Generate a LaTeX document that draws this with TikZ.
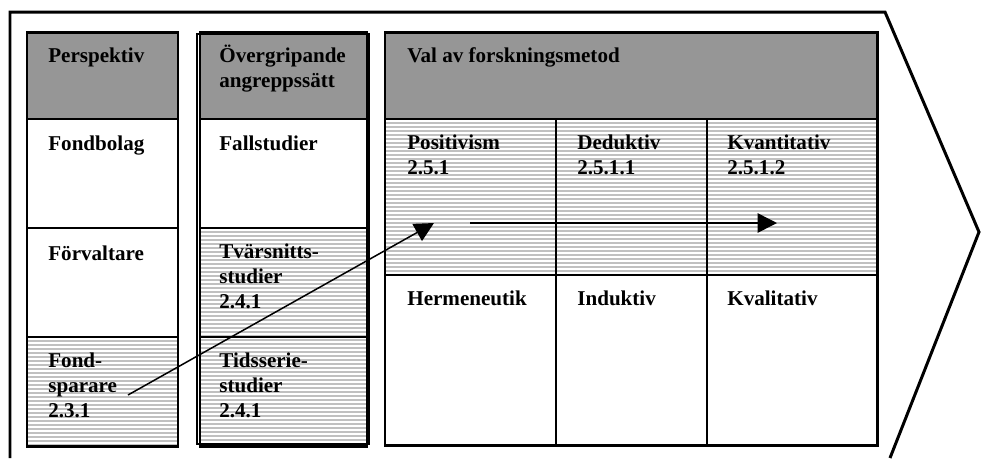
\documentclass[tikz,border=0pt]{standalone}
\usepackage{fontspec}
\setmainfont{Liberation Serif}
\usetikzlibrary{arrows.meta}
\definecolor{headgray}{HTML}{969696}
\definecolor{stripegray}{HTML}{C0C0C0}
% striped cell: x1,y1,x2,y2 in pixel units
\newcommand\stripecell[4]{%
  \fill[stripegray] (#1,#2) rectangle (#3,#4);
  \begin{scope}
    \clip (#1,#2) rectangle (#3,#4);
    \foreach \k in {0,...,60}
      \draw[white,line width=0.75pt] (#1,#2+\k*4+2) -- (#3,#2+\k*4+2);
  \end{scope}}

\begin{document}
\begin{tikzpicture}[
        x=0.02cm,y=-0.02cm,
        cell/.style={font=\bfseries\fontsize{12}{14.2}\selectfont,align=left,anchor=base west,inner sep=0pt},
        headfill/.style={fill=headgray},
        boxline/.style={line width=1.7pt},
        divider/.style={line width=1.1pt},
        flow/.style={line width=0.85pt,-{Triangle[length=11pt,width=11pt]}}
    ]
    \useasboundingbox (0,0) rectangle (981,458);
    % outer arrow shape
    \draw[boxline,line join=miter] (10,458) -- (10,12) -- (885,12) -- (979,232) -- (890,458);
    % column 1
    \fill[headfill] (27,32) rectangle (178,119);
    \stripecell{27}{337}{178}{446}
    \draw[divider] (27,119) -- (178,119) (27,228) -- (178,228) (27,337) -- (178,337);
    \draw[boxline] (27,32) rectangle (178,446);
    % column 2
    \fill[headfill] (200,32) rectangle (367,119);
    \stripecell{200}{228}{367}{446}
    \draw[divider] (200,119) -- (367,119) (200,228) -- (367,228) (200,337) -- (367,337);
    \draw[line width=0.6pt] (197,34) rectangle (369,444);
    \draw[boxline] (200,32) rectangle (367,446);
    % column 3
    \fill[headfill] (385,32) rectangle (877,119);
    \stripecell{385}{119}{877}{275}
    \draw[divider] (385,119) -- (877,119) (385,275) -- (877,275)
        (556,119) -- (556,445) (707,119) -- (707,445);
    \draw[boxline] (385,32) rectangle (877,445);
    % texts (base = last line)
    \node[cell] (persp) at (48,62) {Perspektiv};
    \node[cell] (fondbolag) at (48,150) {Fondbolag};
    \node[cell] (forv) at (48,260) {Förvaltare};
    \node[cell] (fondsp) at (48,417) {Fond-\\sparare\\2.3.1};
    \node[cell] (overgr) at (219,87) {Övergripande\\angreppssätt};
    \node[cell] (fall) at (219,150) {Fallstudier};
    \node[cell] (tvar) at (219,308) {Tvärsnitts-\\studier\\2.4.1};
    \node[cell] (tids) at (219,417) {Tidsserie-\\studier\\2.4.1};
    \node[cell] (val) at (407,62) {Val av forskningsmetod};
    \node[cell] (posit) at (407,174) {Positivism\\2.5.1};
    \node[cell] (deduk) at (577,174) {Deduktiv\\2.5.1.1};
    \node[cell] (kvant) at (727,174) {Kvantitativ\\2.5.1.2};
    \node[cell] (herm) at (407,305) {Hermeneutik};
    \node[cell] (induk) at (577,305) {Induktiv};
    \node[cell] (kval) at (727,305) {Kvalitativ};
    % arrows
    \coordinate (fromfond) at (128,395);
    \coordinate (topos) at (434,223);
    \coordinate (fromdeduk) at (470,223);
    \coordinate (tokvant) at (777,223);
    \draw[flow] (fromfond) -- (topos);
    \draw[flow] (fromdeduk) -- (tokvant);
\end{tikzpicture}
\end{document}
